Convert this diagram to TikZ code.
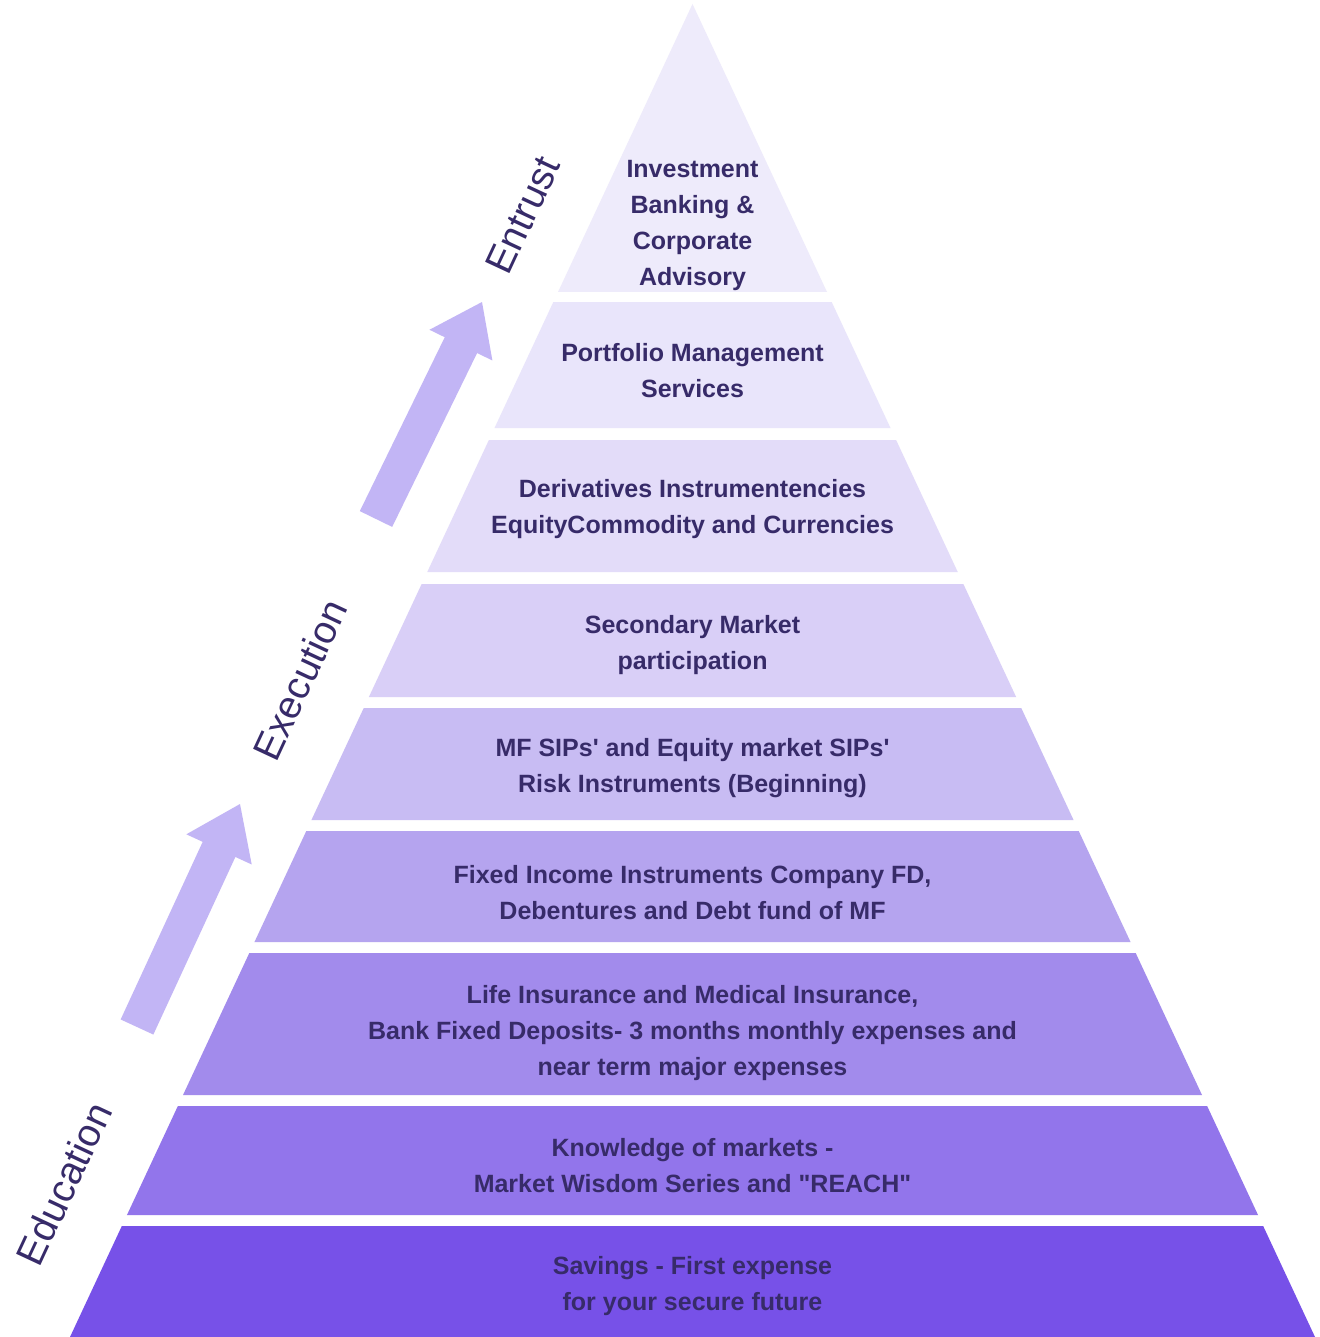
\documentclass[tikz,border=0pt]{standalone}
\usepackage{fontspec}
\setmainfont{Liberation Sans}
\usetikzlibrary{calc}
\definecolor{b1}{HTML}{EEEBFB}
\definecolor{b2}{HTML}{E9E5FB}
\definecolor{b3}{HTML}{E3DCF9}
\definecolor{b4}{HTML}{D9CFF7}
\definecolor{b5}{HTML}{C8BCF3}
\definecolor{b6}{HTML}{B5A4EF}
\definecolor{b7}{HTML}{A28BEC}
\definecolor{b8}{HTML}{9275EB}
\definecolor{b9}{HTML}{7751E8}
\definecolor{txt}{HTML}{372B69}
\definecolor{arr}{HTML}{C2B5F5}
\begin{document}
\begin{tikzpicture}[x=1pt,y=-1pt,
  btext/.style={align=center, font=\bfseries\fontsize{25}{36}\selectfont, text=txt, inner sep=0pt},
  side/.style={font=\fontsize{39}{39}\selectfont, text=txt, rotate=65, inner sep=0pt}]
\useasboundingbox[fill=white] (0,0) rectangle (1319,1337);
% pyramid
\fill[b1] (692.5,4) -- ({692.5+0.467*288},292) -- ({692.5-0.467*288},292) -- cycle;
\foreach \ya/\yb/\c in {302/428/b2,440/572/b3,584/697/b4,708/820/b5,831/942/b6,953/1095/b7,1106/1215/b8,1226/1337/b9}{
  \fill[\c] ({692.5-0.467*(\ya-4)},\ya) -- ({692.5+0.467*(\ya-4)},\ya) -- ({692.5+0.467*(\yb-4)},\yb) -- ({692.5-0.467*(\yb-4)},\yb) -- cycle;
}
% arrows
\coordinate (t1) at (376,519); \coordinate (p1) at (482,302);
\coordinate (h1) at ($(p1)!48pt!(t1)$);
\fill[arr] ($(t1)!18pt!90:(p1)$) -- ($(h1)!18pt!90:(p1)$) -- ($(h1)!35pt!90:(p1)$) -- (p1) -- ($(h1)!35pt!-90:(p1)$) -- ($(h1)!18pt!-90:(p1)$) -- ($(t1)!18pt!-90:(p1)$) -- cycle;
\coordinate (t2) at (137,1027); \coordinate (p2) at (240,804);
\coordinate (h2) at ($(p2)!50pt!(t2)$);
\fill[arr] ($(t2)!18pt!90:(p2)$) -- ($(h2)!18pt!90:(p2)$) -- ($(h2)!36pt!90:(p2)$) -- (p2) -- ($(h2)!36pt!-90:(p2)$) -- ($(h2)!18pt!-90:(p2)$) -- ($(t2)!18pt!-90:(p2)$) -- cycle;
% side labels
\node[side] (entrust) at (523,215) {Entrust};
\node[side] (execution) at (300,680) {Execution};
\node[side] (education) at (64,1184) {Education};
% band texts
\node[btext] (n1) at (692.5,225) {Investment\\Banking \&\\Corporate\\Advisory};
\node[btext] (n2) at (692.5,370.5) {Portfolio Management\\Services};
\node[btext] (n3) at (692.5,509) {Derivatives Instrumentencies\\EquityCommodity and Currencies};
\node[btext] (n4) at (692.5,645) {Secondary Market\\participation};
\node[btext] (n5) at (692.5,768) {MF SIPs\textquotesingle{} and Equity market SIPs\textquotesingle\\Risk Instruments (Beginning)};
\node[btext] (n6) at (692.5,893) {Fixed Income Instruments Company FD,\\Debentures and Debt fund of MF};
\node[btext] (n7) at (692.5,1033) {Life Insurance and Medical Insurance,\\Bank Fixed Deposits- 3 months monthly expenses and\\near term major expenses};
\node[btext] (n8) at (692.5,1166) {Knowledge of markets -\\Market Wisdom Series and \textquotedbl REACH\textquotedbl};
\node[btext] (n9) at (692.5,1286.5) {Savings - First expense\\for your secure future};
\end{tikzpicture}
\end{document}
